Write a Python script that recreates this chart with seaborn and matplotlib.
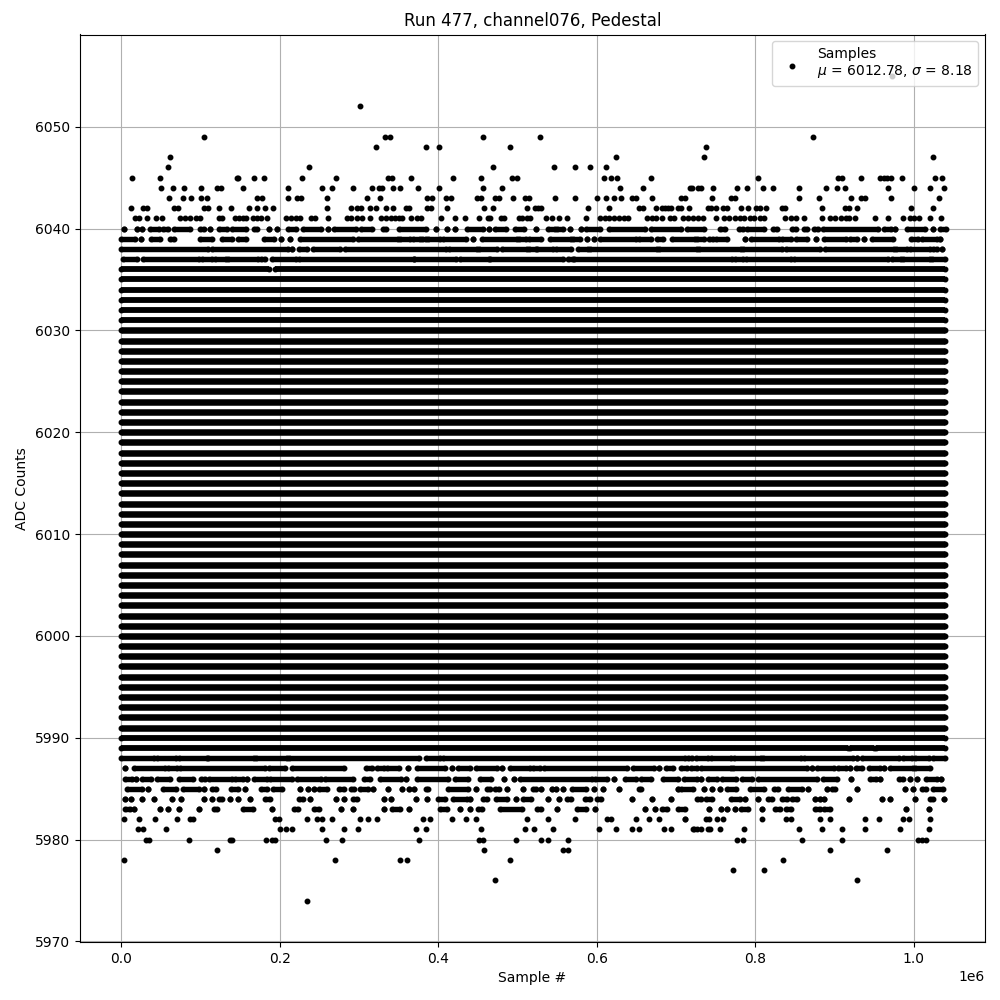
import pandas as pd
import matplotlib
matplotlib.use("Agg")
import matplotlib.pyplot as plt
import seaborn as sns

# sample positions in thousands of samples, one list per ADC code
# isolated samples
hits_6055 = [973]
hits_6052 = [301]
hits_6049 = [104, 333, 339, 457, 529, 873]
hits_6048 = [322, 385, 401, 491, 738]
hits_6047 = [62, 624, 736, 1024]
hits_6046 = [59, 237, 469, 546, 572, 592, 612]
hits_6045 = [13, 49, 146, 148, 168, 180, 228, 271, 337, 342, 366, 419, 454, 493, 500, 609, 618, 625, 668,
             804, 904, 909, 933, 957, 962, 966, 971, 985, 1027, 1036]
hits_6044 = [50, 65, 79, 101, 121, 126, 154, 211, 253, 266, 293, 317, 325, 329, 343, 352, 375, 401, 457, 480,
             630, 658, 718, 728, 720, 731, 747, 777, 790, 810, 823, 855, 889, 903, 913, 968, 1001, 1020, 1038]
hits_6043 = [60, 78, 88, 101, 108, 171, 178, 211, 222, 227, 260, 310, 327, 386, 392, 410, 416, 449, 454, 472,
             477, 495, 509, 515, 548, 572, 601, 612, 622, 631, 645, 650, 670, 707, 712, 745, 769, 774, 855,
             880, 921, 933, 938, 971, 1032]
hits_6042 = [12, 27, 33, 66, 72, 105, 110, 123, 138, 161, 171, 181, 192, 260, 290, 298, 303, 314, 322, 334,
             343, 360, 363, 386, 391, 411, 458, 469, 512, 522, 526, 530, 589, 615, 653, 658, 675, 682, 686,
             690, 694, 702, 707, 716, 740, 744, 750, 759, 764, 782, 791, 801, 806, 814, 834, 837, 884, 913,
             919, 928, 996, 1024]
hits_6041 = [17, 23, 33, 44, 52, 74, 81, 87, 95, 100, 124, 127, 144, 149, 154, 158, 166, 171, 176, 184, 208,
             214, 220, 226, 240, 244, 261, 285, 290, 298, 304, 314, 328, 334, 340, 345, 350, 354, 366, 373,
             378, 403, 421, 434, 452, 463, 466, 479, 483, 502, 506, 512, 516, 536, 543, 552, 562, 586, 604,
             610, 616, 622, 628, 634, 639, 663, 670, 675, 683, 692, 698, 709, 715, 721, 728, 734, 750, 761,
             767, 774, 781, 786, 794, 799, 806, 811, 838, 845, 852, 862, 884, 895, 901, 908, 914, 918, 926,
             951, 968, 987, 995, 1001, 1007, 1021, 1035]
hits_5982 = [3, 22, 43, 70, 87, 91, 194, 199, 235, 247, 253, 266, 301, 312, 323, 381, 390, 418, 435, 448, 512,
             539, 572, 613, 618, 650, 666, 679, 711, 712, 738, 742, 752, 760, 809, 839, 845, 882, 895, 939,
             956, 986, 994, 1020]
hits_5981 = [21, 27, 57, 201, 208, 215, 254, 281, 299, 372, 384, 454, 509, 521, 545, 603, 624, 645, 654, 685,
             694, 722, 727, 723, 732, 740, 743, 756, 786, 855, 884, 909, 938, 983, 1019]
hits_5980 = [31, 35, 85, 137, 140, 183, 190, 194, 258, 279, 376, 452, 457, 498, 530, 538, 564, 777, 784, 859,
             909, 1005, 1010, 1016]
hits_5979 = [121, 458, 558, 564, 895, 966]
hits_5978 = [3, 270, 352, 361, 490, 835]
hits_5977 = [772, 811]
hits_5976 = [472, 929]
hits_5974 = [235]

# stretches of overlapping samples (first, last)
runs_6040 = [(3, 3), (20, 20), (26, 26), (36, 48), (53, 59), (66, 87), (100, 104), (112, 112), (123, 134),
             (140, 158), (167, 171), (186, 186), (197, 197), (210, 221), (229, 252), (261, 261), (268, 296),
             (303, 317), (330, 334), (350, 384), (397, 397), (411, 411), (421, 421), (436, 457), (464, 464),
             (472, 486), (497, 508), (523, 523), (539, 547), (550, 558), (566, 566), (580, 580), (587, 604),
             (615, 661), (669, 706), (714, 736), (755, 762), (779, 785), (790, 811), (822, 827), (846, 851),
             (861, 866), (874, 879), (885, 955), (962, 971), (977, 977), (992, 1014), (1025, 1025), (1033, 1041)]
runs_6039 = [(0, 17), (25, 25), (38, 49), (61, 66), (99, 114), (127, 140), (148, 158), (180, 193), (202, 202),
             (213, 213), (226, 292), (299, 349), (352, 364), (368, 377), (380, 384), (387, 402), (406, 435),
             (444, 444), (455, 499), (502, 511), (514, 530), (541, 567), (570, 579), (588, 588), (596, 596),
             (604, 650), (654, 669), (676, 684), (695, 724), (727, 736), (742, 747), (750, 765), (787, 787),
             (795, 830), (834, 845), (851, 865), (877, 877), (887, 914), (920, 929), (937, 937), (947, 974),
             (996, 1006), (1010, 1029), (1033, 1033)]
runs_6038 = [(0, 110), (115, 210), (216, 216), (224, 235), (242, 276), (283, 410), (414, 449), (452, 474),
             (480, 512), (514, 523), (525, 545), (549, 568), (577, 589), (592, 676), (679, 727), (729, 782),
             (784, 834), (839, 882), (888, 975), (978, 991), (995, 1021), (1025, 1030), (1036, 1036)]
runs_6037 = [(2, 20), (27, 98), (102, 114), (118, 132), (135, 173), (176, 182), (190, 220), (224, 369),
             (370, 423), (427, 464), (466, 558), (564, 570), (571, 771), (774, 784), (788, 845), (849, 967),
             (973, 984), (986, 1020), (1023, 1040)]
runs_6036 = [(0, 187), (194, 1040)]
runs_5989 = [(0, 917), (920, 950), (953, 1040)]
runs_5988 = [(0, 41), (45, 69), (73, 108), (110, 167), (170, 209), (212, 376), (385, 402), (406, 712),
             (715, 720), (725, 740), (744, 769), (773, 807), (810, 858), (861, 924), (929, 929), (935, 981),
             (986, 998), (1002, 1019), (1025, 1040)]
runs_5987 = [(5, 5), (16, 55), (59, 70), (74, 182), (187, 207), (216, 281), (309, 317), (323, 332), (336, 351),
             (362, 362), (373, 408), (417, 417), (425, 440), (448, 474), (481, 481), (490, 516), (520, 529),
             (533, 638), (646, 672), (678, 678), (688, 696), (707, 714), (719, 727), (732, 769), (772, 865),
             (872, 872), (878, 899), (904, 914), (920, 920), (927, 935), (943, 958), (962, 962), (970, 999),
             (1002, 1021)]
runs_5986 = [(5, 13), (19, 19), (26, 38), (45, 61), (73, 91), (101, 106), (111, 140), (144, 154), (159, 159),
             (167, 184), (188, 216), (222, 252), (257, 292), (307, 314), (326, 353), (359, 360), (373, 413),
             (421, 438), (453, 467), (483, 483), (496, 496), (503, 594), (598, 613), (622, 622), (636, 650),
             (656, 669), (684, 703), (710, 727), (732, 732), (740, 752), (758, 776), (783, 796), (803, 878),
             (885, 903), (921, 921), (945, 952), (957, 957), (981, 987), (995, 995), (1004, 1004), (1015, 1029),
             (1035, 1035)]
runs_5985 = [(7, 26), (34, 34), (53, 69), (78, 98), (104, 104), (114, 120), (139, 148), (156, 156), (177, 184),
             (191, 203), (225, 225), (236, 236), (243, 243), (250, 260), (275, 281), (290, 294), (301, 312),
             (318, 318), (337, 337), (354, 354), (363, 363), (370, 370), (384, 387), (413, 437), (448, 448),
             (462, 466), (472, 477), (487, 487), (507, 507), (519, 524), (530, 530), (543, 543), (549, 549),
             (557, 557), (569, 587), (597, 597), (608, 608), (628, 628), (653, 656), (702, 702), (707, 721),
             (735, 735), (746, 746), (756, 756), (765, 776), (794, 811), (824, 829), (841, 859), (867, 867),
             (890, 890), (897, 901), (928, 928), (989, 989), (999, 999), (1010, 1015), (1025, 1037)]
runs_5984 = [(5, 5), (12, 12), (26, 26), (41, 41), (64, 64), (76, 76), (105, 105), (115, 115), (123, 127),
             (137, 137), (148, 148), (162, 162), (181, 188), (224, 230), (238, 238), (271, 271), (281, 281),
             (293, 298), (331, 331), (340, 340), (372, 372), (386, 386), (400, 408), (419, 436), (440, 440),
             (457, 462), (473, 487), (498, 498), (507, 517), (538, 538), (552, 552), (563, 568), (585, 591),
             (601, 605), (645, 645), (670, 670), (694, 694), (726, 731), (738, 746), (769, 781), (787, 787),
             (804, 804), (816, 821), (834, 840), (846, 853), (875, 875), (882, 882), (887, 887), (918, 918),
             (960, 960), (970, 970), (1002, 1002), (1021, 1025), (1038, 1038)]
runs_5983 = [(5, 11), (16, 16), (49, 49), (59, 59), (73, 73), (98, 98), (117, 121), (154, 166), (190, 190),
             (218, 223), (243, 249), (277, 277), (293, 293), (331, 331), (342, 352), (363, 363), (402, 411),
             (428, 428), (440, 440), (450, 455), (478, 506), (525, 530), (550, 550), (575, 586), (598, 598),
             (661, 661), (673, 673), (683, 689), (703, 712), (742, 742), (757, 757), (765, 765), (774, 774),
             (782, 791), (808, 808), (825, 831), (839, 845), (875, 882), (887, 895), (990, 990), (1019, 1019)]

# rows where the samples overlap from end to end; the core ones look a bit thicker
core_levels = [5991, 5992, 5993, 5994, 5995, 5996, 5997, 5998, 5999, 6000, 6001, 6002, 6003, 6004, 6005, 6006,
               6007, 6008, 6009, 6010, 6011, 6012, 6013, 6014, 6015, 6016, 6017, 6018, 6019, 6020, 6021, 6022,
               6023, 6024, 6025, 6026, 6027, 6028, 6029, 6030]
edge_levels = [5990, 6031, 6032, 6033, 6034, 6035]
beaded_levels = [6040, 6039, 6038, 6037, 5988, 5987, 5986, 5985, 5984, 5983]
full_start = 0
full_end = 1040

hit_levels = {6055: hits_6055, 6052: hits_6052, 6049: hits_6049, 6048: hits_6048, 6047: hits_6047,
              6046: hits_6046, 6045: hits_6045, 6044: hits_6044, 6043: hits_6043, 6042: hits_6042,
              6041: hits_6041, 5982: hits_5982, 5981: hits_5981, 5980: hits_5980, 5979: hits_5979,
              5978: hits_5978, 5977: hits_5977, 5976: hits_5976, 5974: hits_5974}
run_levels = {6040: runs_6040, 6039: runs_6039, 6038: runs_6038, 6037: runs_6037, 6036: runs_6036,
              5989: runs_5989, 5988: runs_5988, 5987: runs_5987, 5986: runs_5986, 5985: runs_5985,
              5984: runs_5984, 5983: runs_5983}
for level in core_levels + edge_levels:
    run_levels[level] = [(full_start, full_end)]

# long format tables for seaborn
points = []
for level, samples in hit_levels.items():
    for s in samples:
        points.append((s * 1000, level))

segments = []
run_id = 0
for level, runs in run_levels.items():
    for first, last in runs:
        segments.append((run_id, first * 1000, level))
        segments.append((run_id, last * 1000, level))
        points.append((first * 1000, level))
        points.append((last * 1000, level))
        run_id += 1

df_points = pd.DataFrame(points, columns=['sample', 'adc'])
df_segments = pd.DataFrame(segments, columns=['run', 'sample', 'adc'])
is_core = df_segments['adc'].isin(core_levels)
is_beaded = df_segments['adc'].isin(beaded_levels)

fig, ax = plt.subplots(figsize=(10, 10))
sns.lineplot(data=df_segments[is_beaded], x='sample', y='adc', units='run', estimator=None, sort=False,
             color='black', linewidth=3.9, solid_capstyle='butt', legend=False, zorder=3, ax=ax)
sns.lineplot(data=df_segments[~is_core & ~is_beaded], x='sample', y='adc', units='run', estimator=None, sort=False,
             color='black', linewidth=4.2, solid_capstyle='butt', legend=False, zorder=3, ax=ax)
sns.lineplot(data=df_segments[is_core], x='sample', y='adc', units='run', estimator=None, sort=False,
             color='black', linewidth=4.7, solid_capstyle='butt', legend=False, zorder=3, ax=ax)
sns.scatterplot(data=df_points, x='sample', y='adc', color='black', marker='o', s=10.5, linewidth=1,
                edgecolor='black', zorder=3, ax=ax,
                label='Samples\n$\\mu$ = 6012.78, $\\sigma$ = 8.18')

ax.set_xlim(-52000, 1090000)
ax.set_ylim(5969.95, 6059.05)
ax.set_title('Run 477, channel076, Pedestal')
ax.set_xlabel('Sample #')
ax.set_ylabel('ADC Counts')
ax.grid(True)
ax.legend(loc='upper right')

fig.subplots_adjust(left=0.08, right=0.985, top=0.9655, bottom=0.058)
plt.savefig('out.png', dpi=100)
